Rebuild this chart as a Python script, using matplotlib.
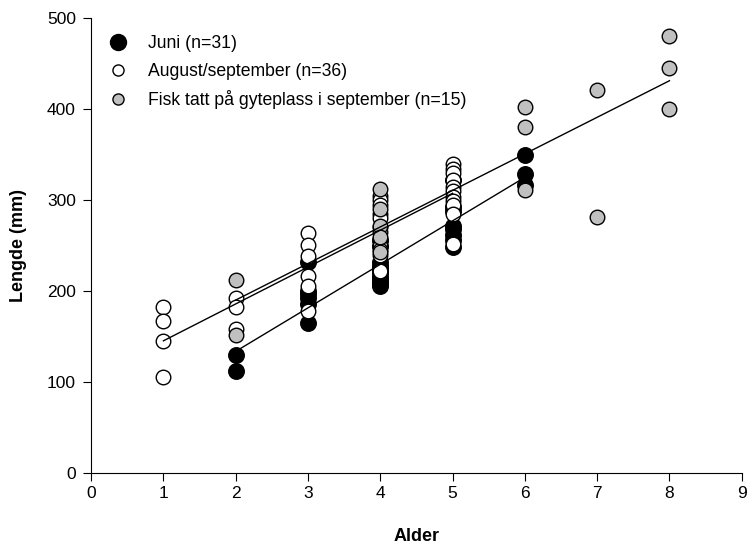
from matplotlib import pyplot as plt
from matplotlib.lines import Line2D
import numpy as np

plt.rcParams['font.family'] = ['Liberation Sans', 'DejaVu Sans']

# Juni (n=31)
juni_age = [2, 2,
            3, 3, 3, 3, 3, 3,
            4, 4, 4, 4, 4, 4, 4, 4, 4, 4, 4, 4,
            5, 5, 5, 5, 5, 5, 5, 5,
            6, 6, 6]
juni_len = [130, 112,
            232, 200, 197, 192, 186, 165,
            256, 250, 232, 228, 225, 222, 220, 216, 213, 210, 208, 206,
            322, 292, 288, 272, 268, 262, 256, 248,
            350, 329, 317]

# August/september (n=36)
aug_age = [1, 1, 1, 1,
           2, 2, 2,
           3, 3, 3, 3, 3, 3,
           4, 4, 4, 4, 4, 4, 4, 4, 4, 4, 4, 4,
           5, 5, 5, 5, 5, 5, 5, 5, 5, 5, 5]
aug_len = [182, 167, 145, 106,
           192, 183, 158,
           264, 251, 239, 217, 206, 178,
           305, 300, 295, 285, 280, 270, 265, 255, 250, 245, 240, 222,
           340, 334, 330, 322, 315, 310, 303, 299, 295, 285, 252]

# Fisk tatt paa gyteplass i september (n=15)
gyte_age = [2, 2, 4, 4, 4, 4, 4, 6, 6, 6, 7, 7, 8, 8, 8]
gyte_len = [212, 152, 312, 290, 272, 260, 243, 402, 380, 311, 421, 282, 480, 445, 400]

labels = ["Juni (n=31)", "August/september (n=36)",
          "Fisk tatt på gyteplass i september (n=15)"]


def fit_line(ax, x, y):
	# Linear regression over the age range of the group
	x = np.array(x, dtype=float)
	y = np.array(y, dtype=float)
	k, m = np.polyfit(x, y, 1)
	xs = np.array([x.min(), x.max()])
	ax.plot(xs, k * xs + m, color='black', lw=1, zorder=5)


fig = plt.figure(figsize=(7.47, 5.52), dpi=100)
ax = fig.add_axes([0.122, 0.143, 0.871, 0.824])

ax.scatter(juni_age, juni_len, s=125, c='black', edgecolors='black', lw=1, zorder=2)
ax.scatter(aug_age, aug_len, s=110, c='white', edgecolors='black', lw=1, zorder=3)
ax.scatter(gyte_age, gyte_len, s=110, c='#c0c0c0', edgecolors='black', lw=1, zorder=4)

fit_line(ax, juni_age, juni_len)
fit_line(ax, aug_age, aug_len)
fit_line(ax, gyte_age, gyte_len)

ax.set_xlim(0, 9)
ax.set_ylim(0, 500)
ax.set_xticks(range(0, 10))
ax.set_yticks(range(0, 501, 100))
ax.spines['top'].set_visible(False)
ax.spines['right'].set_visible(False)
ax.tick_params(direction='out', length=6, labelsize=12.5)
ax.tick_params(axis='y', pad=5)

ax.set_xlabel("Alder", fontsize=13, fontweight='bold', labelpad=19)
ax.set_ylabel("Lengde (mm)", fontsize=13, fontweight='bold', labelpad=14)

handles = [
	Line2D([], [], ls='none', marker='o', ms=11.5, mfc='black', mec='black'),
	Line2D([], [], ls='none', marker='o', ms=8, mfc='white', mec='black'),
	Line2D([], [], ls='none', marker='o', ms=8, mfc='#c0c0c0', mec='black'),
]
ax.legend(handles, labels, loc='upper left', frameon=False, fontsize=12.7,
          bbox_to_anchor=(0.0, 0.99), handletextpad=0.9, handlelength=1.6,
          borderaxespad=0.3, labelspacing=0.6)

fig.savefig("out.png", dpi=100)
